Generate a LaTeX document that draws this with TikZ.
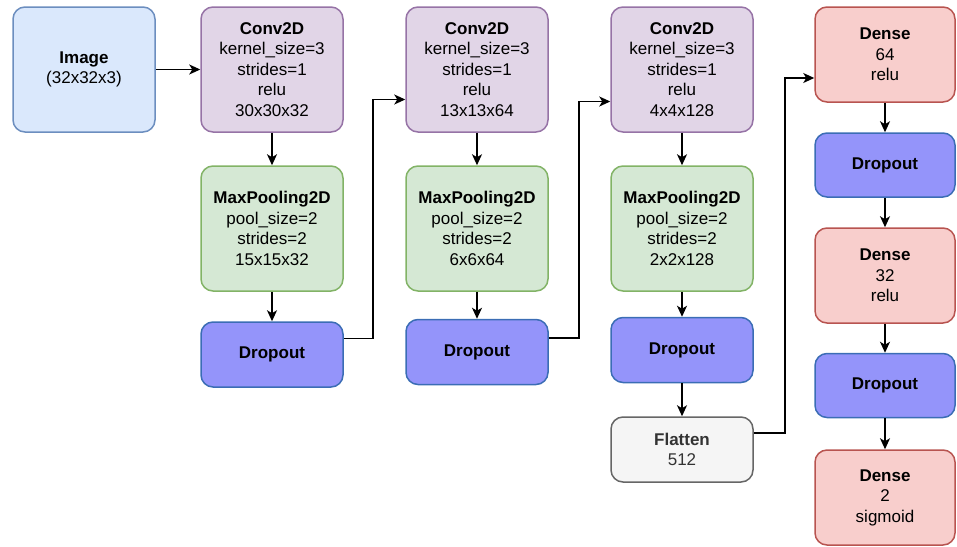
\documentclass[tikz,border=0pt]{standalone}
\usepackage{fontspec}
\setmainfont{Liberation Sans}
\usetikzlibrary{arrows.meta,positioning,calc}
\definecolor{blueF}{HTML}{DAE8FC}\definecolor{blueS}{HTML}{6C8EBF}
\definecolor{purF}{HTML}{E1D5E7}\definecolor{purS}{HTML}{9673A6}
\definecolor{grnF}{HTML}{D5E8D4}\definecolor{grnS}{HTML}{82B366}
\definecolor{drpF}{HTML}{9494FA}\definecolor{drpS}{HTML}{3B6DB5}
\definecolor{gryF}{HTML}{F5F5F5}\definecolor{gryS}{HTML}{666666}
\definecolor{redF}{HTML}{F8CECC}\definecolor{redS}{HTML}{B85450}
\definecolor{gryT}{HTML}{333333}
\tikzset{
  box/.style={draw, line width=1.5pt, rounded corners=12pt, align=center,
    inner sep=0pt, font=\fontsize{17}{20.5}\selectfont, minimum width=142pt},
  bigbox/.style={box, minimum height=125pt},
  inbox/.style={box, fill=blueF, draw=blueS},
  convbox/.style={bigbox, fill=purF, draw=purS},
  poolbox/.style={bigbox, fill=grnF, draw=grnS},
  dropbox/.style={box, fill=drpF, draw=drpS, minimum height=65pt},
  flatbox/.style={box, fill=gryF, draw=gryS, minimum height=65pt, text=gryT},
  densebox/.style={box, fill=redF, draw=redS, minimum width=140pt, minimum height=95pt},
  arr/.style={line width=1.5pt, -{Stealth[length=11pt,width=10pt,inset=3pt]}}
}
\begin{document}
\begin{tikzpicture}[x=1pt,y=-1pt]
\useasboundingbox (0,0) rectangle (957,546);
% column 1
\node[inbox, minimum height=125pt] (img) at (84,69.5) {\textbf{Image}\\(32x32x3)};
% column 2
\node[convbox] (c1) at (272,69.5) {\textbf{Conv2D}\\kernel\_size=3\\strides=1\\relu\\30x30x32};
\node[poolbox] (m1) at (272,228.5) {\textbf{MaxPooling2D}\\pool\_size=2\\strides=2\\15x15x32};
\node[dropbox] (d1) at (272,354.5) {\textbf{Dropout}};
% column 3
\node[convbox] (c2) at (477,69.5) {\textbf{Conv2D}\\kernel\_size=3\\strides=1\\relu\\13x13x64};
\node[poolbox] (m2) at (477,228.5) {\textbf{MaxPooling2D}\\pool\_size=2\\strides=2\\6x6x64};
\node[dropbox] (d2) at (477,352) {\textbf{Dropout}};
% column 4
\node[convbox] (c3) at (682,69.5) {\textbf{Conv2D}\\kernel\_size=3\\strides=1\\relu\\4x4x128};
\node[poolbox] (m3) at (682,228.5) {\textbf{MaxPooling2D}\\pool\_size=2\\strides=2\\2x2x128};
\node[dropbox] (d3) at (682,350) {\textbf{Dropout}};
\node[flatbox] (fl) at (682,449.5) {\textbf{Flatten}\\512};
% column 5
\node[densebox] (e1) at (885,54.5) {\textbf{Dense}\\64\\relu};
\node[dropbox, minimum width=140pt, minimum height=64pt] (da) at (885,165) {\textbf{Dropout}};
\node[densebox] (e2) at (885,275.5) {\textbf{Dense}\\32\\relu};
\node[dropbox, minimum width=140pt, minimum height=64pt] (db) at (885,385.5) {\textbf{Dropout}};
\node[densebox] (e3) at (885,497.5) {\textbf{Dense}\\2\\sigmoid};
% connectors
\draw[arr] (img) -- (c1);
\draw[arr] (c1) -- (m1);
\draw[arr] (m1) -- (d1);
\draw[arr] ([yshift=16pt]d1.east) -- ++(29,0) |- ([yshift=-30pt]c2.west);
\draw[arr] (c2) -- (m2);
\draw[arr] (m2) -- (d2);
\draw[arr] ([yshift=14pt]d2.east) -- ++(30,0) |- ([yshift=-32pt]c3.west);
\draw[arr] (c3) -- (m3);
\draw[arr] (m3) -- (d3);
\draw[arr] (d3) -- (fl);
\draw[arr] ([yshift=16.5pt]fl.east) -- ++(31,0) |- ([yshift=-23.5pt]e1.west);
\draw[arr] (e1) -- (da);
\draw[arr] (da) -- (e2);
\draw[arr] (e2) -- (db);
\draw[arr] (db) -- (e3);
\end{tikzpicture}
\end{document}
